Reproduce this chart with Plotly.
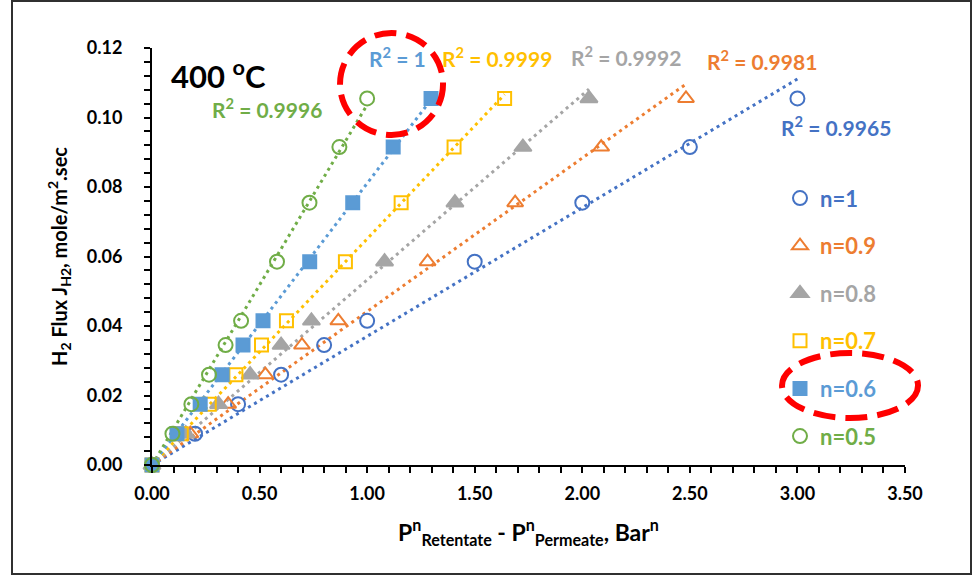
import numpy as np
import plotly.graph_objects as go

# ---- data ----
flux = [0.0, 0.009, 0.0175, 0.026, 0.0345, 0.0415, 0.0585, 0.0755, 0.0915, 0.1055]

x_n10 = [0.0, 0.20, 0.40, 0.60, 0.80, 1.00, 1.50, 2.00, 2.50, 3.00]
x_n09 = [0.0, 0.178, 0.354, 0.527, 0.697, 0.866, 1.281, 1.688, 2.088, 2.482]
x_n08 = [0.0, 0.157, 0.309, 0.456, 0.600, 0.741, 1.081, 1.408, 1.724, 2.031]
x_n07 = [0.0, 0.136, 0.266, 0.390, 0.509, 0.625, 0.899, 1.158, 1.404, 1.639]
x_n06 = [0.0, 0.116, 0.224, 0.326, 0.423, 0.516, 0.733, 0.933, 1.121, 1.297]
x_n05 = [0.0, 0.095, 0.183, 0.265, 0.342, 0.414, 0.581, 0.732, 0.871, 1.000]

series_names = ["n=1", "n=0.9", "n=0.8", "n=0.7", "n=0.6", "n=0.5"]
series_x = [x_n10, x_n09, x_n08, x_n07, x_n06, x_n05]
r2_labels = ["R² = 0.9965", "R² = 0.9981", "R² = 0.9992", "R² = 0.9999", "R² = 1", "R² = 0.9996"]

x_ticks = [0.0, 0.5, 1.0, 1.5, 2.0, 2.5, 3.0, 3.5]
y_ticks = [0.0, 0.02, 0.04, 0.06, 0.08, 0.10, 0.12]

# ---- styles ----
colors = ["#4472C4", "#ED7D31", "#A5A5A5", "#FFC000", "#5B9BD5", "#70AD47"]
symbols = ["circle-open", "triangle-up-open", "triangle-up", "square-open", "square", "circle-open"]
sizes = [14, 14, 15, 13, 13, 14]
FONT = "Lato"

fig = go.Figure()

# trendlines (linear, through origin)
for xs, c in zip(series_x, colors):
    xa = np.array(xs)
    ya = np.array(flux)
    slope = float((xa * ya).sum() / (xa * xa).sum())
    fig.add_trace(go.Scatter(
        x=[0.0, xa.max()], y=[0.0, slope * xa.max()], mode="lines",
        line=dict(color=c, width=3, dash="3px,4px"),
        showlegend=False, hoverinfo="skip"))

# data markers
for i, (name, xs, c, s, sz) in enumerate(zip(series_names, series_x, colors, symbols, sizes)):
    fig.add_trace(go.Scatter(
        x=xs, y=flux, mode="markers", cliponaxis=False,
        name=f"<span style='color:{c}'><b>{name}</b></span>",
        legendgroup=f"g{i}",
        marker=dict(symbol=s, size=sz, color=c, line=dict(color=c, width=2))))

# R² annotations
r2_pos = [(3.181, 0.0976), (2.833, 0.1165), (2.205, 0.1177), (1.605, 0.1174), (1.14, 0.1174), (0.535, 0.1028)]
for lab, c, (ax_, ay_) in zip(r2_labels, colors, r2_pos):
    fig.add_annotation(x=ax_, y=ay_, xref="x", yref="y", text=f"<b>{lab.replace('²', '<sup>2</sup>')}</b>",
                       showarrow=False, font=dict(family=FONT, size=21, color=c))

fig.add_annotation(x=0.307, y=0.1125, xref="x", yref="y", text="<b>400 <sup>o</sup>C</b>",
                   showarrow=False, font=dict(family=FONT, size=31, color="black"))

# red dashed highlight ellipses
fig.add_shape(type="circle", xref="paper", yref="paper", x0=0.2497, x1=0.3865, y0=0.7914, y1=1.036,
              line=dict(color="#FF0000", width=6, dash="22px,10px"))
fig.add_shape(type="circle", xref="paper", yref="paper", x0=0.8367, x1=1.0173, y0=0.1127, y1=0.2686,
              line=dict(color="#FF0000", width=6, dash="22px,10px"))

# outer chart border
L, R, T, B = 152, 69, 48, 112
W, H = 974, 577
pw, ph = W - L - R, H - T - B
fig.add_shape(type="rect", xref="paper", yref="paper",
              x0=(12 - L) / pw, x1=(971 - L) / pw, y0=(H - 574 - B) / ph, y1=(H - 1 - B) / ph,
              line=dict(color="#303030", width=2))

fig.update_layout(
    width=W, height=H,
    margin=dict(l=L, r=R, t=T, b=B, autoexpand=False),
    paper_bgcolor="white", plot_bgcolor="white",
    font=dict(family=FONT, size=18, color="black"),
    showlegend=True,
    legend=dict(x=0.834, y=0.69, xanchor="left", yanchor="top", tracegroupgap=16,
                font=dict(family=FONT, size=22), bgcolor="rgba(0,0,0,0)", itemwidth=30),
    xaxis=dict(range=[0, 3.5], tickvals=x_ticks, ticktext=[f"<b>{v:.2f}</b>" for v in x_ticks],
               showgrid=False, zeroline=False, showline=True, linecolor="black", linewidth=2,
               ticks="outside", ticklen=6, tickwidth=2, tickcolor="black", ticklabelstandoff=5,
               minor=dict(dtick=0.1, ticks="outside", ticklen=6, tickwidth=2, tickcolor="black", showgrid=False),
               tickfont=dict(family=FONT, size=18),
               title=dict(text="<b>P<sup>n</sup><sub>Retentate</sub> - P<sup>n</sup><sub>Permeate</sub>, Bar<sup>n</sup></b>",
                          font=dict(family=FONT, size=23), standoff=22)),
    yaxis=dict(range=[0, 0.12], tickvals=y_ticks, ticktext=[f"<b>{v:.2f}</b>" for v in y_ticks],
               showgrid=False, zeroline=False, showline=True, linecolor="black", linewidth=2,
               ticks="outside", ticklen=6, tickwidth=2, tickcolor="black", ticklabelstandoff=18,
               minor=dict(dtick=0.004, ticks="outside", ticklen=6, tickwidth=2, tickcolor="black", showgrid=False),
               tickfont=dict(family=FONT, size=18),
               title=dict(text="<b>H<sub>2</sub> Flux J<sub>H2</sub>, mole/m<sup>2</sup>.sec</b>",
                          font=dict(family=FONT, size=20), standoff=14)),
)

fig.write_html("out.html", config={"displayModeBar": False},
               post_script="document.body.style.margin='0px';document.body.style.overflow='hidden';")
